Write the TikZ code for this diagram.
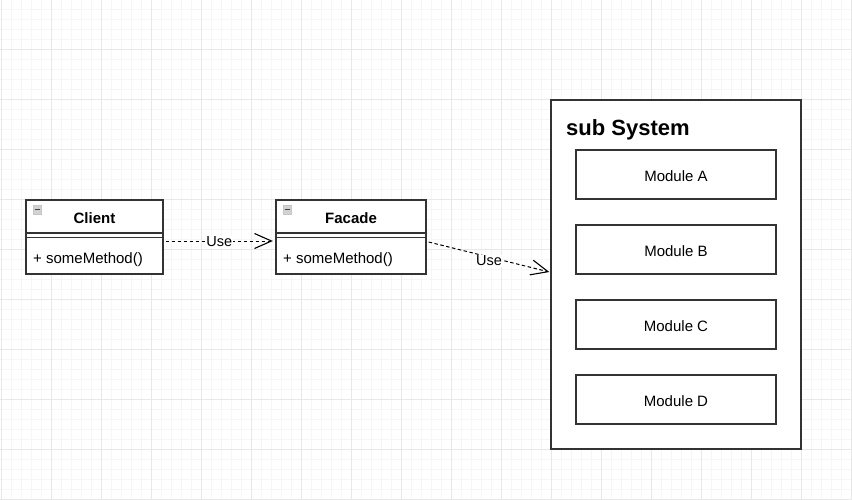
\documentclass[tikz,border=0pt]{standalone}
\usepackage{fontspec}
\setmainfont{Liberation Sans}
\usetikzlibrary{arrows.meta}
\definecolor{minorgrid}{HTML}{F6F6F6}
\definecolor{majorgrid}{HTML}{E8E8E8}
\definecolor{edge}{HTML}{333333}
\tikzset{
  classbox/.style={draw=edge, line width=1.3pt, fill=white, minimum width=#1, minimum height=74pt, inner sep=0pt},
  modbox/.style={draw=edge, line width=1.3pt, fill=white, minimum width=200pt, minimum height=49pt, inner sep=0pt},
  modtext/.style={font=\fontsize{15}{17}\selectfont, inner sep=0pt},
  groupbox/.style={draw=edge, line width=1.3pt, fill=white, minimum width=250pt, minimum height=349pt, inner sep=0pt},
  titletext/.style={font=\bfseries\fontsize{15}{17}\selectfont, inner sep=0pt},
  methodtext/.style={font=\fontsize{15}{17}\selectfont, anchor=west, inner sep=0pt},
  usearrow/.style={draw=black, line width=1pt, dash pattern=on 3.5pt off 2.5pt, -{Straight Barb[length=17pt,width=15pt,line width=1.1pt]}},
  uselabel/.style={fill=white, inner sep=0.5pt, font=\fontsize{14.5}{16}\selectfont},
  iconbox/.style={draw=gray!45, fill=gray!35, line width=0.8pt}
}
\begin{document}
\begin{tikzpicture}[x=1pt,y=-1pt]
\useasboundingbox (0,0) rectangle (852,499);
\fill[white] (0,0) rectangle (852,499);
% grid
\foreach \gx in {1,11,...,851} \draw[minorgrid, line width=0.5pt] (\gx,0) -- (\gx,499);
\foreach \gy in {9,19,...,499} \draw[minorgrid, line width=0.5pt] (0,\gy) -- (852,\gy);
\foreach \gx in {1,51,...,851} \draw[majorgrid, line width=0.6pt] (\gx,0) -- (\gx,499);
\foreach \gy in {49,99,...,499} \draw[majorgrid, line width=0.6pt] (0,\gy) -- (852,\gy);

% Client class
\node[classbox=137pt] (client) at (94.5,237) {};
\draw[edge, line width=1.3pt] (26,233) -- (163,233);
\draw[edge, line width=1.3pt] (26,237.5) -- (163,237.5);
\node[titletext] (clientname) at (94.5,218.5) {Client};
\node[methodtext] (clientmethod) at (33,260) {+ someMethod()};
\draw[iconbox] (33,205.5) rectangle (41.5,214);
\draw[black!75, line width=1.1pt] (34.5,209.75) -- (40,209.75);

% Facade class
\node[classbox=150pt] (facade) at (351,237) {};
\draw[edge, line width=1.3pt] (276,233) -- (426,233);
\draw[edge, line width=1.3pt] (276,237.5) -- (426,237.5);
\node[titletext] (facadename) at (351,218.5) {Facade};
\node[methodtext] (facademethod) at (283,260) {+ someMethod()};
\draw[iconbox] (283,205.5) rectangle (291.5,214);
\draw[black!75, line width=1.1pt] (284.5,209.75) -- (290,209.75);

% sub System
\node[groupbox] (sub) at (676,274.5) {};
\node[font=\bfseries\fontsize{22}{25}\selectfont, anchor=west, inner sep=0pt] (subtitle) at (566,130) {sub System};
\node[modbox] (ma) at (676,174.5) {};
\node[modbox] (mb) at (676,249.5) {};
\node[modbox] (mc) at (676,324.5) {};
\node[modbox] (md) at (676,399.5) {};
\node[modtext] (ta) at ([yshift=-1.5pt]ma.center) {Module A};
\node[modtext] (tb) at ([yshift=-1.5pt]mb.center) {Module B};
\node[modtext] (tc) at ([yshift=-1.5pt]mc.center) {Module C};
\node[modtext] (td) at ([yshift=-1.5pt]md.center) {Module D};

% connectors
\draw[usearrow] ([xshift=2pt,yshift=-4pt]client.east) -- node[uselabel, yshift=-1pt] {Use} ([xshift=-2.5pt,yshift=-4pt]facade.west);
\draw[usearrow] ([xshift=2pt,yshift=-5pt]facade.east) -- node[uselabel, yshift=-4pt] {Use} ([xshift=-1pt,yshift=2.5pt]sub.west);
\end{tikzpicture}
\end{document}
